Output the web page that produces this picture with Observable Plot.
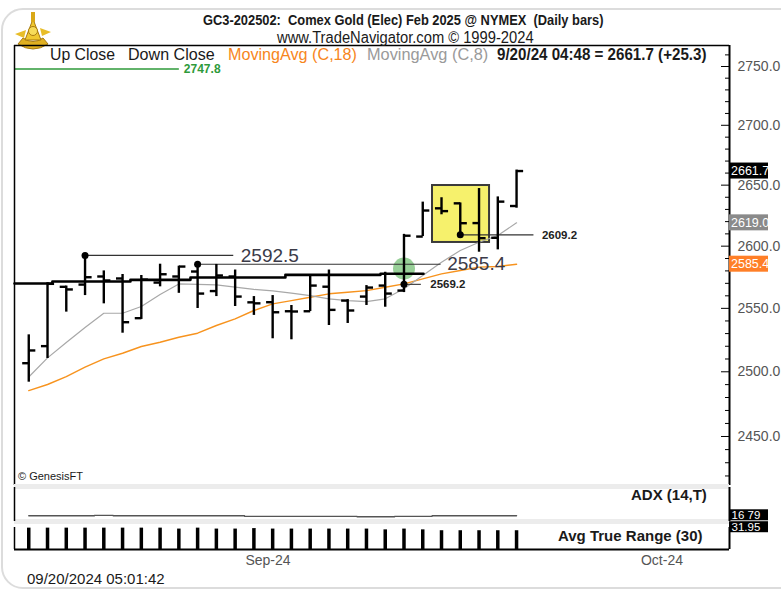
<!DOCTYPE html>
<html><head><meta charset="utf-8">
<script src="https://cdn.jsdelivr.net/npm/d3@7"></script>
<script src="https://cdn.jsdelivr.net/npm/@observablehq/plot@0.6"></script>
<style>
body{margin:0;background:#fff;width:781px;height:589px;overflow:hidden;position:relative;
 font-family:"Liberation Sans Narrow","Arial Narrow","Liberation Sans",Arial,sans-serif;color:#1a1a1a;}
.abs{position:absolute;white-space:nowrap;line-height:1;transform-origin:0 0;}
.sep{position:absolute;left:14px;width:715px;height:5px;background:#ececec;}
</style></head><body>
<div class="abs" style="left:1px;top:8px;width:820px;height:577px;border:2px solid #dcdcdc;border-radius:22px;"></div>
<svg class="abs" style="left:12px;top:10px" width="42" height="44" viewBox="0 0 42 44">
  <path d="M6 34 Q21 44 36 34 L31 28 Q21 35 11 28 Z" fill="#e0b020" stroke="#a87a10" stroke-width="1"/>
  <path d="M13 30 L21 9 L29 30 Z" fill="#f0c830" stroke="#a87a10" stroke-width="1"/>
  <rect x="19" y="2" width="4" height="10" fill="#d9a818"/>
  <circle cx="21" cy="21" r="4.5" fill="#f7dc5a" stroke="#a87a10"/>
  <path d="M3 24 L14 20 L12 28 Z" fill="#e8bd28"/>
  <path d="M39 22 L28 18 L30 26 Z" fill="#e8bd28"/>
</svg>
<div id="main" class="abs" style="left:0;top:0"></div>
<div class="sep" style="top:484px"></div>
<div class="sep" style="top:519px"></div>
<div id="adx" class="abs" style="left:0;top:487px"></div>
<div id="atr" class="abs" style="left:0;top:521px"></div>

<div class="abs" style="left:203px;top:12px;font-size:15px;font-weight:bold;transform:scaleX(0.857);">GC3-202502:&nbsp; Comex Gold (Elec) Feb 2025 @ NYMEX&nbsp; (Daily bars)</div>
<div class="abs" style="left:277px;top:30px;font-size:16px;transform:scaleX(0.92);">www.TradeNavigator.com © 1999-2024</div>
<div class="abs" style="left:50px;top:46px;font-size:17px;transform:scaleX(0.93);">Up Close</div>
<div class="abs" style="left:128px;top:46px;font-size:17px;transform:scaleX(0.945);">Down Close</div>
<div class="abs" style="left:228px;top:46px;font-size:17px;color:#f7861c;transform:scaleX(0.95);">MovingAvg (C,18)</div>
<div class="abs" style="left:367px;top:46px;font-size:17px;color:#9a9a9a;transform:scaleX(0.96);">MovingAvg (C,8)</div>
<div class="abs" style="left:497px;top:46px;font-size:17px;font-weight:bold;transform:scaleX(0.89);">9/20/24 04:48 = 2661.7 (+25.3)</div>
<div class="abs" style="left:18px;top:471px;font-size:11px;">© GenesisFT</div>
<div class="abs" style="left:631px;top:487px;font-size:15px;font-weight:bold;">ADX (14,T)</div>
<div class="abs" style="left:558px;top:528px;font-size:15px;font-weight:bold;">Avg True Range (30)</div>
<div class="abs" style="left:27px;top:571px;font-size:15px;">09/20/2024 05:01:42</div>

<script>
// ---- data ----
const dates = ["2024-08-14","2024-08-15","2024-08-16","2024-08-19","2024-08-20","2024-08-21","2024-08-22","2024-08-23","2024-08-26","2024-08-27","2024-08-28","2024-08-29","2024-08-30",
  "2024-09-03","2024-09-04","2024-09-05","2024-09-06","2024-09-09","2024-09-10","2024-09-11","2024-09-12","2024-09-13","2024-09-16","2024-09-17","2024-09-18","2024-09-19","2024-09-20"];
const open  = [2506.7,2520.1,2567.2,2569.0,2575.5,2573.9,2542.2,2570.6,2575.5,2579.5,2563.8,2575.5,2554.8,2554.9,2547.7,2547.7,2567.3,2556.2,2559.4,2568.2,2564.2,2607.8,2630.9,2635.0,2618.8,2606.8,2632.8];
const high  = [2529.0,2570.5,2567.8,2592.5,2580.0,2577.1,2576.3,2585.4,2583.8,2585.4,2585.2,2580.7,2559.4,2560.2,2552.3,2576.3,2580.7,2557.0,2568.2,2578.9,2609.6,2636.0,2639.6,2635.3,2647.2,2640.3,2662.5];
const low   = [2491.9,2510.4,2547.0,2560.2,2553.6,2530.3,2541.2,2567.2,2562.0,2549.9,2559.4,2551.5,2544.4,2525.9,2525.1,2547.5,2536.4,2538.0,2552.3,2550.9,2562.6,2607.8,2625.6,2609.2,2595.1,2597.0,2631.0];
const close = [2516.7,2569.6,2565.1,2574.9,2572.3,2539.0,2573.0,2577.3,2583.5,2561.8,2576.3,2559.4,2554.0,2546.9,2547.5,2568.2,2548.8,2548.3,2566.6,2561.8,2608.5,2629.1,2628.6,2618.7,2606.5,2636.4,2661.7];
const ma8   = [2495.9,2510.9,2522.9,2534.8,2546.1,2546.1,2551.5,2561.1,2569.5,2569.1,2568.7,2566.9,2565.1,2563.9,2562.2,2560.2,2557.6,2556.2,2555.4,2557.6,2565.6,2576.3,2587.0,2596.5,2603.2,2608.7,2619.0];
const ma18  = [2485.4,2490.1,2496.3,2503.6,2510.1,2514.5,2519.8,2523.2,2527.1,2530.3,2536.4,2541.7,2548.3,2553.6,2556.2,2558.9,2561.6,2562.9,2564.2,2566.9,2569.6,2573.6,2577.6,2580.3,2583.0,2583.5,2585.4];
const adx   = [16.8,16.8,16.8,16.8,18.0,16.8,16.8,16.8,16.8,16.8,16.8,16.8,15.2,15.2,15.2,15.2,15.2,15.2,14.0,14.0,15.2,15.2,16.8,16.8,16.8,16.8,16.8];
const atr   = [33.6,33.6,33.6,33.6,33.6,33.6,33.6,33.6,33.0,33.6,33.0,33.0,33.3,33.0,33.0,33.0,33.0,33.0,33.0,32.5,33.0,32.5,31.95,31.95,31.95,31.95,31.95];

const priceTicks = [2450,2500,2550,2600,2650,2700,2750];
const minorTicks = d3.range(2420,2770,10).filter(v => v % 50 !== 0);
const monthTicks = [12.75, 33.75];
const monthLabels = ["Sep-24","Oct-24"];

// annotations (bar index / price)
const pivotDots = [[3,2592.5],[9,2585.4],[20,2569.2],[23,2609.2]];
const pivotLines = [[3,10.9,2592.5],[9,21.95,2585.4],[20,20.9,2569.2],[23,26.9,2609.2]];
const bigLabels = [[11.3,2592.5,"2592.5"],[22.3,2585.4,"2585.4"]];
const smallLabels = [[21.4,2569.2,"2569.2"],[27.35,2609.2,"2609.2"]];
const targetLine = [-0.76, 8.0, 2747.8];
const supportLine = [[-0.76,2569.9],[1.26,2569.9],[1.26,2571.5],[5.42,2571.5],[5.42,2572.8],[8.62,2572.8],[8.62,2574.7],[13.68,2574.7],[13.68,2576.8],[18.75,2576.8],[18.75,2577.7],[21.04,2577.7]];
const highlightBox = [{x1:21.52,x2:24.56,y1:2603.0,y2:2649.7}];
const circle = [[20,2581.9]];
const lastLabels = [{v:2661.7,bg:"#000"},{v:2619.0,bg:"#8a8a8a"},{v:2585.4,bg:"#ff7f27"}];

const xMin = -0.76, xMax = 37.35;
const yDom = [2412.8, 2768.1];
const FONT = '"Liberation Sans Narrow","Arial Narrow","Liberation Sans",Arial,sans-serif';

const bars = dates.map((d,i)=>({i, date:d, open:open[i], high:high[i], low:low[i], close:close[i], ma8:ma8[i], ma18:ma18[i], adx:adx[i], atr:atr[i]}));
const tk = 0.35;

const common = {width:781, marginLeft:14, marginRight:52,
  x:{type:"linear", domain:[xMin,xMax], axis:null},
  style:{background:"transparent", overflow:"visible", fontFamily:FONT}};

const main = Plot.plot({...common, height:490, marginTop:45, marginBottom:5,
  y:{type:"log", domain:yDom, axis:null},
  marks:[
    Plot.rect(highlightBox,{x1:"x1",x2:"x2",y1:"y1",y2:"y2",fill:"#f6f16c",stroke:"#3a3a3a",strokeWidth:2}),
    Plot.dot(circle,{x:d=>d[0],y:d=>d[1],r:11,fill:"#76c076",fillOpacity:0.75}),
    Plot.line(bars,{x:"i",y:"ma18",stroke:"#f7931e",strokeWidth:1.4}),
    Plot.line(bars,{x:"i",y:"ma8",stroke:"#a8a8a8",strokeWidth:1.2}),
    Plot.line(supportLine,{x:d=>d[0],y:d=>d[1],stroke:"#000",strokeWidth:2.6}),
    Plot.link(pivotLines,{x1:d=>d[0],x2:d=>d[1],y1:d=>d[2],y2:d=>d[2],stroke:"#333",strokeWidth:1.1}),
    Plot.link([targetLine],{x1:d=>d[0],x2:d=>d[1],y1:d=>d[2],y2:d=>d[2],stroke:"#2e9a3a",strokeWidth:1.5}),
    Plot.text([targetLine],{x:d=>d[1],y:d=>d[2],text:d=>d[2].toFixed(1),textAnchor:"start",dx:5,dy:0.5,fill:"#2e9a3a",fontWeight:"bold",fontSize:12}),
    Plot.ruleX(bars,{x:"i",y1:"low",y2:"high",stroke:"#000",strokeWidth:2.4}),
    Plot.link(bars,{x1:d=>d.i-tk,x2:"i",y1:"open",y2:"open",stroke:"#000",strokeWidth:2.4}),
    Plot.link(bars,{x1:"i",x2:d=>d.i+tk,y1:"close",y2:"close",stroke:"#000",strokeWidth:2.4}),
    Plot.dot(pivotDots,{x:d=>d[0],y:d=>d[1],r:3.5,fill:"#000"}),
    Plot.text(bigLabels,{x:d=>d[0],y:d=>d[1],text:d=>d[2],textAnchor:"start",fill:"#3b3b48",fontSize:19}),
    Plot.text(smallLabels,{x:d=>d[0],y:d=>d[1],text:d=>d[2],textAnchor:"start",fill:"#222",fontSize:11.5,fontWeight:"bold"}),
    Plot.ruleX([xMin],{stroke:"#000",strokeWidth:1.5}),
    Plot.ruleY([yDom[1]],{stroke:"#000",strokeWidth:1.5}),
    Plot.ruleX([xMax],{stroke:"#000",strokeWidth:2}),
    Plot.axisY(priceTicks,{anchor:"right",tickSize:9,insetRight:9,fill:"none",stroke:"#000",label:null}),
    Plot.axisY(minorTicks,{anchor:"right",tickSize:5,insetRight:5,fill:"none",stroke:"#000",label:null}),
    Plot.axisY(priceTicks,{anchor:"right",tickSize:0,tickPadding:8,tickFormat:d3.format(".1f"),fill:"#555",fontSize:14,label:null}),
    Plot.rect(lastLabels,{x1:xMax,x2:xMax,y1:"v",y2:"v",insetTop:-8,insetBottom:-8,insetRight:-39,fill:"bg"}),
    Plot.text(lastLabels,{x:xMax,y:"v",text:d=>d.v.toFixed(1),textAnchor:"start",dx:1.5,fill:"#fff",fontSize:12.5})
  ]});
document.getElementById("main").appendChild(main);

const adxPlot = Plot.plot({...common, height:34, marginTop:0, marginBottom:0,
  y:{domain:[0,100], axis:null},
  marks:[
    Plot.line(bars,{x:"i",y:"adx",curve:"step",stroke:"#555",strokeWidth:1.4}),
    Plot.ruleX([xMin],{stroke:"#000",strokeWidth:1.5}),
    Plot.ruleX([xMax],{stroke:"#000",strokeWidth:2}),
    Plot.rect([16.79],{x1:xMax,x2:xMax,y1:d=>d,y2:d=>d,dy:-0.5,insetTop:-5.5,insetBottom:-5.5,insetRight:-39,fill:"#000"}),
    Plot.text([16.79],{x:xMax,y:d=>d,text:d=>d.toFixed(2).replace("."," "),textAnchor:"start",dx:2,dy:-0.5,fill:"#fff",fontSize:11.5})
  ]});
document.getElementById("adx").appendChild(adxPlot);

const atrMin = 20;
const atrPlot = Plot.plot({...common, height:50, marginTop:6, marginBottom:22,
  y:{domain:[atrMin,34], axis:null},
  marks:[
    Plot.ruleX(bars,{x:"i",y1:atrMin,y2:"atr",stroke:"#000",strokeWidth:3.5}),
    Plot.ruleY([atrMin],{stroke:"#000",strokeWidth:2}),
    Plot.ruleX([xMin],{stroke:"#000",strokeWidth:1.5}),
    Plot.ruleX([xMax],{stroke:"#000",strokeWidth:2}),
    Plot.rect([31.95],{x1:xMax,x2:xMax,y1:d=>d,y2:d=>d,dy:-3.5,insetTop:-5.5,insetBottom:-5.5,insetRight:-39,fill:"#000"}),
    Plot.text([31.95],{x:xMax,y:d=>d,text:d=>d.toFixed(2),textAnchor:"start",dx:2,dy:-3.5,fill:"#fff",fontSize:11.5}),
    Plot.axisX(monthTicks,{anchor:"bottom",tickSize:0,tickPadding:6,tickFormat:d=>monthLabels[monthTicks.indexOf(d)],fill:"#555",fontSize:14,label:null})
  ]});
document.getElementById("atr").appendChild(atrPlot);
</script>
</body></html>
